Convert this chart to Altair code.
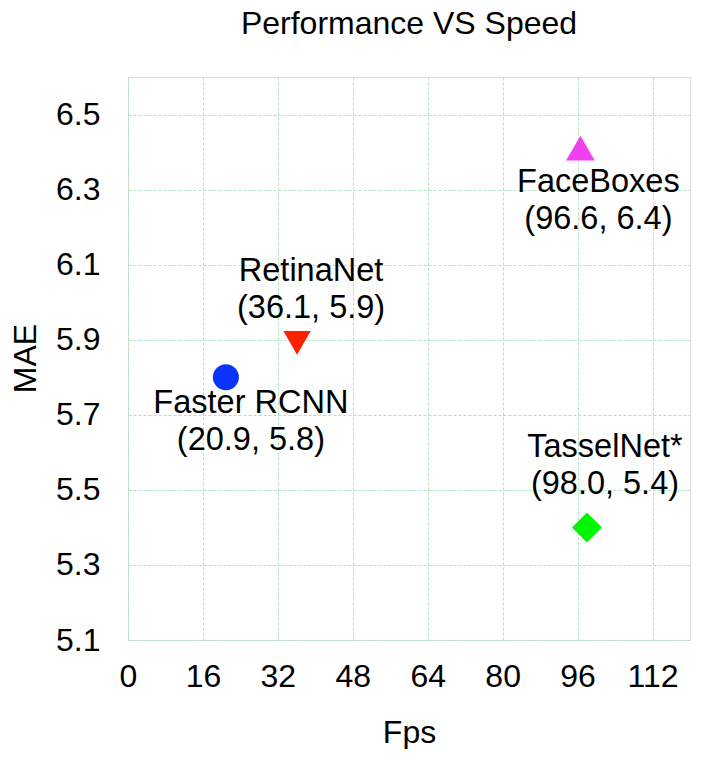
import altair as alt
import pandas as pd

# ---- data ----
models = ["Faster RCNN", "RetinaNet", "FaceBoxes", "TasselNet*"]
fps = [20.9, 36.1, 96.6, 98.0]
mae = [5.8, 5.9, 6.4, 5.4]

x_grid_values = [0, 8, 16, 24, 32, 40, 48, 56, 64, 72, 80, 88, 96, 104, 112, 120]
y_grid_values = [5.1, 5.2, 5.3, 5.4, 5.5, 5.6, 5.7, 5.8, 5.9, 6.0, 6.1, 6.2, 6.3, 6.4, 6.5, 6.6]

df = pd.DataFrame({"model": models, "fps": fps, "mae": mae})

FONT = "Liberation Sans"

# marker styles
shapes = [
    "circle",
    "M-1,-0.64L1,-0.64L0,1.09Z",      # triangle down
    "M0,-1.14L1,0.59L-1,0.59Z",       # triangle up
    "diamond",
]
colors = ["#0a33ff", "#ff2200", "#f23ff0", "#00f500"]
sizes = [676, 900, 900, 1225]

x_scale = alt.Scale(domain=[0, 120], nice=False, zero=False)
y_scale = alt.Scale(domain=[5.1, 6.6], nice=False, zero=False)

grid_style = dict(gridColor="#aee3c0", gridDash=[3, 2], gridWidth=1, gridOpacity=1)

x_enc = alt.X(
    "fps:Q",
    scale=x_scale,
    axis=alt.Axis(
        values=x_grid_values,
        labelExpr="datum.value % 16 == 0 && datum.value < 120 ? datum.label : ''",
        labelOverlap=False,
        ticks=False,
        tickSize=0,
        domain=False,
        labelPadding=36,
        labelBaseline="middle",
        labelFont=FONT,
        labelFontSize=32,
        labelColor="#000000",
        labelFlush=False,
        title="Fps",
        titleFont=FONT,
        titleFontSize=32,
        titleFontWeight="normal",
        titleColor="#000000",
        titleX=281,
        titleY=92,
        titleBaseline="middle",
        **grid_style,
    ),
)
y_enc = alt.Y(
    "mae:Q",
    scale=y_scale,
    axis=alt.Axis(
        values=y_grid_values,
        labelExpr="round(datum.value * 10) % 2 == 1 ? format(datum.value, '.1f') : ''",
        labelOverlap=False,
        ticks=False,
        tickSize=0,
        domain=False,
        labelPadding=28,
        labelFont=FONT,
        labelFontSize=32,
        labelColor="#000000",
        labelFlush=False,
        title="MAE",
        titleFont=FONT,
        titleFontSize=32,
        titleFontWeight="normal",
        titleColor="#000000",
        titleX=-103,
        titleY=281,
        titleAngle=-90,
        titleBaseline="middle",
        titleAlign="center",
        **grid_style,
    ),
)

points = alt.Chart(df).mark_point(filled=True, opacity=1, strokeWidth=0).encode(
    x=x_enc,
    y=y_enc,
    shape=alt.Shape("model:N", scale=alt.Scale(domain=models, range=shapes), legend=None),
    color=alt.Color("model:N", scale=alt.Scale(domain=models, range=colors), legend=None),
    size=alt.Size("model:N", scale=alt.Scale(domain=models, range=sizes), legend=None),
)

# offsets (dx, dy) of the first text line relative to the marker
offsets = {
    "Faster RCNN": (25, 26),
    "RetinaNet": (14, -69),
    "FaceBoxes": (18, 30),
    "TasselNet*": (18, -80),
}

base_text = alt.Chart(df).transform_calculate(
    label="datum.model + '\\n(' + format(datum.fps, '.1f') + ', ' + format(datum.mae, '.1f') + ')'"
)

text_layers = []
for m in models:
    dx, dy = offsets[m]
    t = base_text.transform_filter(alt.datum.model == m).mark_text(
        font=FONT,
        fontSize=32.5,
        color="#000000",
        align="center",
        baseline="middle",
        lineBreak="\n",
        lineHeight=37,
        dx=dx,
        dy=dy,
    ).encode(
        x=alt.X("fps:Q", scale=x_scale),
        y=alt.Y("mae:Q", scale=y_scale),
        text="label:N",
    )
    text_layers.append(t)

chart = alt.layer(points, *text_layers).properties(
    width=562,
    height=563,
    title=alt.TitleParams(
        "Performance VS Speed",
        font=FONT,
        fontSize=32,
        fontWeight="normal",
        color="#000000",
        anchor="middle",
        baseline="alphabetic",
        offset=11,
    ),
    padding={"left": 120, "top": 69, "right": 4, "bottom": 109},
    autosize=alt.AutoSizeParams(type="none"),
).configure_view(
    stroke="#000000",
    strokeWidth=1.2,
).configure(background="#ffffff")

chart.save("out.html", embed_options={"renderer": "svg", "actions": False})
